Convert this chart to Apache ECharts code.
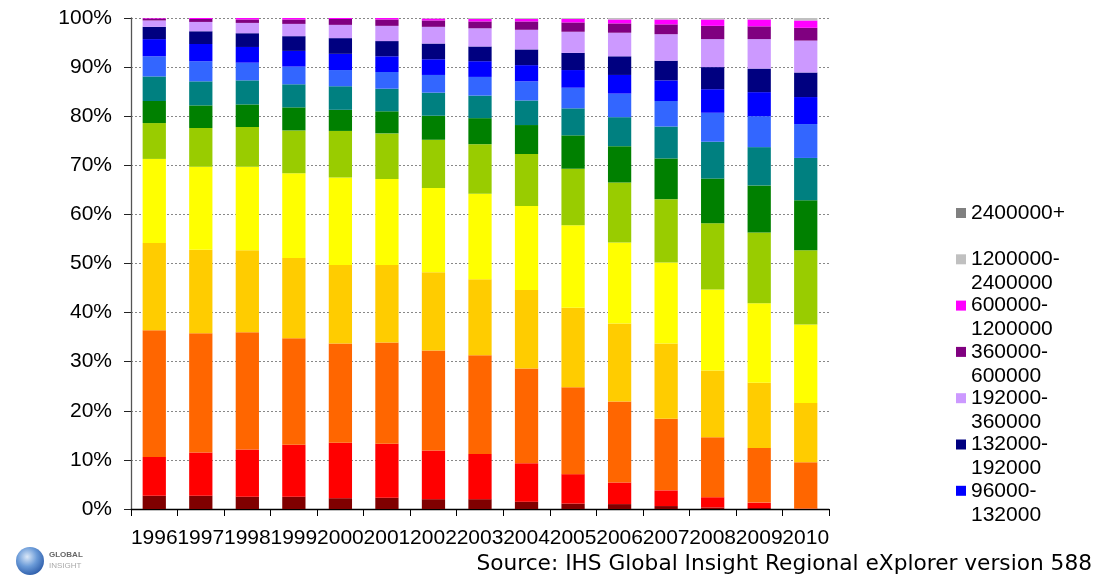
<!DOCTYPE html>
<html><head><meta charset="utf-8">
<script src="https://cdn.jsdelivr.net/npm/echarts@6/dist/echarts.min.js"></script>
<style>html,body{margin:0;padding:0;background:#fff}#c{width:1099px;height:579px}</style>
</head><body><div id="c"></div>
<script>
const years = ['1996','1997','1998','1999','2000','2001','2002','2003','2004','2005','2006','2007','2008','2009','2010'];

// share of each band (% of total), bottom band first
const band_0_6000        = [2.7,2.7,2.5,2.5,2.2,2.3,2.0,2.0,1.5,1.1,1.0,0.6,0.3,0.2,0.05];
const band_6000_12000    = [7.9,8.8,9.6,10.6,11.3,11.0,9.9,9.2,7.8,6.0,4.4,3.2,2.1,1.1,0.05];
const band_12000_24000   = [25.8,24.3,23.9,21.7,20.2,20.6,20.4,20.1,19.3,17.7,16.5,14.6,12.2,11.1,9.4];
const band_24000_36000   = [17.8,17.0,16.7,16.3,16.0,15.8,15.9,15.5,16.0,16.2,15.9,15.3,13.6,13.3,12.1];
const band_36000_48000   = [17.1,16.9,17.0,17.3,17.8,17.5,17.2,17.4,17.1,16.8,16.5,16.5,16.5,16.2,16.0];
const band_48000_60000   = [7.3,7.9,8.1,8.7,9.5,9.3,9.8,10.1,10.6,11.5,12.2,12.9,13.5,14.4,15.1];
const band_60000_72000   = [4.5,4.6,4.6,4.7,4.3,4.5,4.9,5.3,5.9,6.8,7.4,8.3,9.1,9.6,10.2];
const band_72000_84000   = [5.0,4.9,4.9,4.7,4.8,4.6,4.7,4.6,5.0,5.5,5.9,6.5,7.5,7.8,8.6];
const band_84000_96000   = [4.1,4.1,3.6,3.6,3.3,3.4,3.6,3.8,3.9,4.2,4.8,5.2,5.9,6.3,6.9];
const band_96000_132000  = [3.5,3.5,3.2,3.2,3.3,3.2,3.2,3.2,3.3,3.6,3.8,4.2,4.8,4.9,5.5];
const band_132000_192000 = [2.5,2.6,2.8,3.0,3.2,3.1,3.2,3.0,3.2,3.5,3.8,4.0,4.5,4.8,5.0];
const band_192000_360000 = [1.3,1.9,2.1,2.5,2.7,3.1,3.4,3.7,4.0,4.3,4.8,5.4,5.7,6.0,6.5];
const band_360000_600000 = [0.4,0.6,0.7,0.9,1.2,1.3,1.3,1.4,1.7,1.9,1.9,2.0,2.7,2.6,2.6];
const band_600000_1200000 = [0.1,0.2,0.3,0.3,0.2,0.3,0.4,0.5,0.5,0.7,0.8,1.0,1.3,1.4,1.5];
const band_1200000_2400000 = [0,0,0,0,0,0,0.1,0.2,0.2,0.2,0.3,0.3,0.3,0.3,0.5];
const band_2400000_plus  = [0,0,0,0,0,0,0,0,0,0,0,0,0,0,0];

const bandNames = ['0-6000','6000-12000','12000-24000','24000-36000','36000-48000','48000-60000',
  '60000-72000','72000-84000','84000-96000','96000-132000','132000-192000','192000-360000',
  '360000-600000','600000-1200000','1200000-2400000','2400000+'];
const bandValues = [band_0_6000,band_6000_12000,band_12000_24000,band_24000_36000,band_36000_48000,
  band_48000_60000,band_60000_72000,band_72000_84000,band_84000_96000,band_96000_132000,
  band_132000_192000,band_192000_360000,band_360000_600000,band_600000_1200000,
  band_1200000_2400000,band_2400000_plus];
const bandColors = ['#800000','#FF0000','#FF6600','#FFCC00','#FFFF00','#99CC00','#008000','#008080',
  '#3366FF','#0000FF','#000080','#CC99FF','#800080','#FF00FF','#C0C0C0','#808080'];
const legendNames = ['2400000+','1200000-2400000','600000-1200000','360000-600000','192000-360000','132000-192000','96000-132000'];

// normalise to 100% stacks
const totals = years.map((_, i) => bandValues.reduce((s, arr) => s + arr[i], 0));

const FONT = 'Liberation Sans';

const series = bandNames.map((name, k) => ({
  name: name,
  type: 'bar',
  stack: 'total',
  barWidth: '50%',
  itemStyle: { color: bandColors[k] },
  emphasis: { disabled: true },
  data: bandValues[k].map((v, i) => v / totals[i] * 100)
}));

const chart = echarts.init(document.getElementById('c'), null, { renderer: 'canvas' });
chart.setOption({
  animation: false,
  backgroundColor: '#ffffff',
  grid: { left: 131, right: 270, top: 18, bottom: 70, containLabel: false },
  xAxis: {
    type: 'category',
    data: years,
    axisLine: { lineStyle: { color: '#000', width: 1.3 } },
    axisTick: { show: true, alignWithLabel: false, length: 7, lineStyle: { color: '#000' } },
    axisLabel: { interval: 0, fontSize: 21, fontFamily: FONT, color: '#000', margin: 19 }
  },
  yAxis: {
    type: 'value',
    min: 0, max: 100, interval: 10,
    axisLine: { show: true, lineStyle: { color: '#555', width: 1.3 } },
    axisTick: { show: true, length: 7, lineStyle: { color: '#222' } },
    axisLabel: { formatter: '{value}%', fontSize: 21, fontFamily: FONT, color: '#000', margin: 19 },
    splitLine: { show: true, lineStyle: { color: '#888', type: [2, 2], width: 1 } }
  },
  legend: {
    orient: 'vertical',
    left: 956,
    top: 177,
    padding: 0,
    itemGap: -25.7,
    itemWidth: 10,
    itemHeight: 10,
    icon: 'rect',
    selectedMode: false,
    data: legendNames,
    formatter: function (name) {
      const i = name.indexOf('-');
      if (i > 0 && i < name.length - 1) {
        return ' \n' + name.slice(0, i + 1) + '\n' + name.slice(i + 1);
      }
      return ' \n' + name + '\n ';
    },
    textStyle: { fontSize: 21, fontFamily: FONT, color: '#000', lineHeight: 24 }
  },
  graphic: [
    {
      type: 'text', right: 7, top: 553,
      style: { text: 'Source: IHS Global Insight Regional eXplorer version 588', fontSize: 21.7, fontFamily: 'DejaVu Sans', fill: '#000' }
    },
    {
      type: 'circle', shape: { cx: 30, cy: 561, r: 14 },
      style: {
        fill: new echarts.graphic.RadialGradient(0.4, 0.35, 0.7, [
          { offset: 0, color: '#dbe8f8' }, { offset: 0.5, color: '#6b9bd8' }, { offset: 1, color: '#2a5aa8' }
        ])
      }
    },
    { type: 'text', left: 49, top: 551, style: { text: 'GLOBAL', fontSize: 8, fontWeight: 'bold', fontFamily: FONT, fill: '#666' } },
    { type: 'text', left: 49, top: 562, style: { text: 'INSIGHT', fontSize: 8, fontFamily: FONT, fill: '#aaa' } }
  ],
  series: series
});
</script>
</body></html>
